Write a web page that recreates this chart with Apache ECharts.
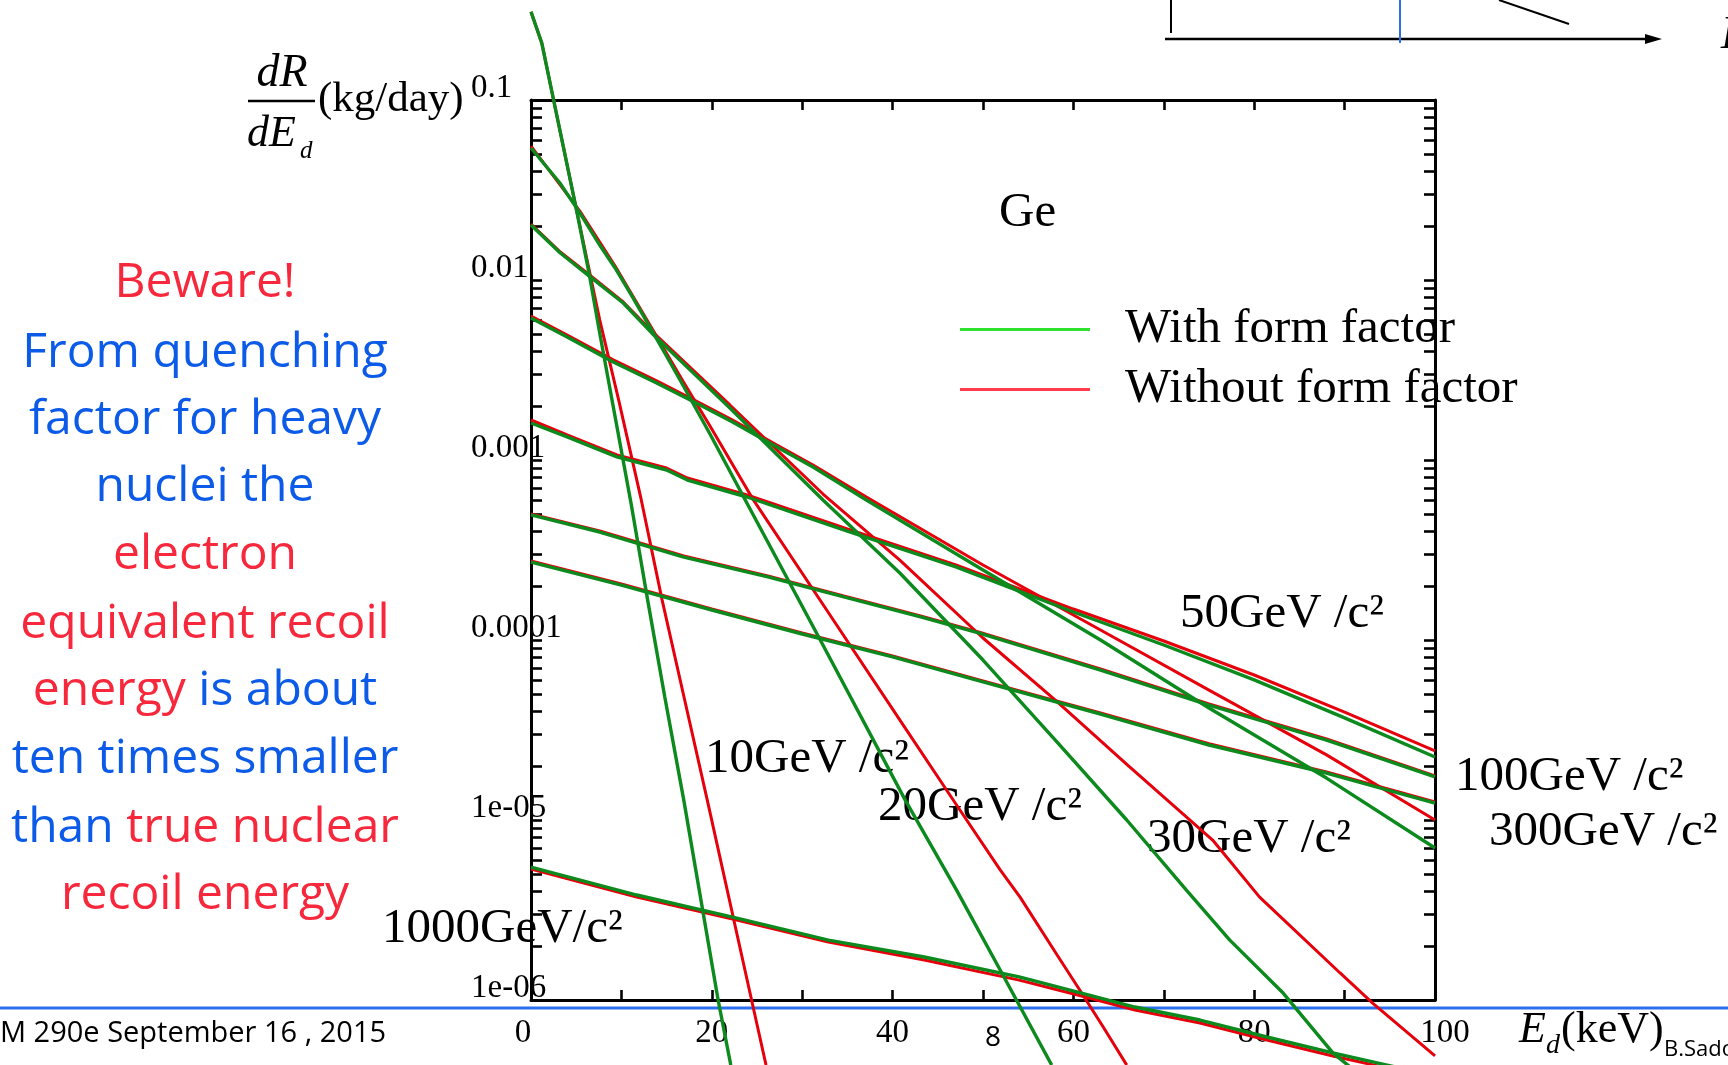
<!DOCTYPE html>
<html><head><meta charset="utf-8">
<script src="https://cdn.jsdelivr.net/npm/echarts@6/dist/echarts.min.js"></script>
<style>html,body{margin:0;padding:0;background:#fff;overflow:hidden}#c{width:1728px;height:1065px}</style>
</head><body><div id="c"></div>
<script>
// ---- data: [recoil energy keV, dR/dE (kg/day)] ----
// curves A..H : WIMP masses (GeV/c2)
const masses = ['10', '20', '30', '50', '100', '200', '300', '1000'];
const ffA = [[0,0.309],[1.2,0.2065],[2.5,0.1],[5.1,0.0236],[6.5,0.0104],[7.6,0.00508],[11.1,5.62e-4],[12.9,1.67e-4],[14.8,4.82e-5],[16.9,1.29e-5],[20.7,1.0e-6],[22.1,4.35e-7]];
const nffA = [[0,0.309],[1.2,0.2065],[2.5,0.1],[5.1,0.0236],[7.6,0.0060],[9.7,0.00215],[12.2,6.0e-4],[14.5,1.67e-4],[17.0,4.64e-5],[19.5,1.29e-5],[24.4,1.0e-6],[26.0,4.35e-7]];
const ffB = [[0,0.0541],[3.2,0.0346],[5.4,0.0236],[7.6,0.01564],[9.3,0.01166],[11.3,0.00794],[13.35,0.00527],[15.0,0.00378],[16.8,0.00261],[19.8,0.001394],[23.7,6.0e-4],[32,1.0e-4],[41.4,1.29e-5],[47,4.14e-6],[51.9,1.468e-6],[57.6,4.35e-7]];
const nffB = [[0,0.0555],[5.4,0.02415],[9.3,0.01197],[13.35,0.00541],[16.8,0.00275],[19.8,0.001545],[24.6,6.0e-4],[33,1.394e-4],[41.4,3.24e-5],[47,1.227e-5],[51.9,5.28e-6],[54.1,3.73e-6],[58.2,1.778e-6],[60.7,1.136e-6],[63.3,7.08e-7],[65.9,4.35e-7]];
const ffC = [[0,0.0202],[3.24,0.01413],[6.55,0.0104],[10.2,0.00745],[13.35,0.00508],[22,0.001945],[32.3,6.0e-4],[40.8,2.355e-4],[50,7.74e-5],[58,2.78e-5],[65.9,1.0e-5],[72.5,4.08e-6],[77.3,2.15e-6],[83.2,1.093e-6],[88.7,5.08e-7],[90.6,4.25e-7]];
const nffC = [[0,0.02048],[3.24,0.0143],[6.55,0.0106],[10.2,0.00755],[13.35,0.00521],[22,0.002022],[32.3,6.47e-4],[40.8,2.78e-4],[50,1.026e-4],[58,4.64e-5],[66,2.02e-5],[75.4,7.74e-6],[80.6,3.73e-6],[89.5,1.413e-6],[93.1,9.62e-7],[100,4.89e-7]];
const ffD = [[0,0.00615],[4,0.00482],[9.1,0.0035],[13.9,0.00268],[18.7,0.002022],[22.3,0.001626],[27.2,0.00118],[31.2,9.14e-4],[37.1,6.0e-4],[50,2.45e-4],[63,1.0e-4],[75,4.19e-5],[88,1.71e-5],[100,6.99e-6]];
const nffD = [[0,0.00631],[4,0.00494],[9.1,0.0036],[13.9,0.00275],[18.7,0.002074],[22.3,0.001668],[27.2,0.00121],[31.2,9.38e-4],[37.1,6.23e-4],[50,2.61e-4],[63,1.136e-4],[75,5.27e-5],[88,2.30e-5],[100,1.0e-5]];
const ffE = [[0,0.001606],[4,0.001343],[9.5,0.00104],[15,8.8e-4],[17.3,7.74e-4],[23.9,6.23e-4],[35,4.03e-4],[47,2.55e-4],[60,1.431e-4],[70,9.38e-5],[80,6.0e-5],[90,3.69e-5],[100,2.24e-5]];
const nffE = [[0,0.001668],[4,0.001377],[9.5,0.001067],[15,9.03e-4],[17.3,7.94e-4],[23.9,6.39e-4],[35,4.14e-4],[47,2.61e-4],[60,1.486e-4],[70,9.87e-5],[80,6.39e-5],[90,3.98e-5],[100,2.42e-5]];
const ffF = [[0,4.95e-4],[7.6,3.98e-4],[16.9,2.89e-4],[26.2,2.24e-4],[34.6,1.734e-4],[43.1,1.343e-4],[49.5,1.094e-4],[63,6.81e-5],[75,4.35e-5],[88,2.78e-5],[100,1.734e-5]];
const nffF = [[0,5.02e-4],[7.6,4.03e-4],[16.9,2.93e-4],[26.2,2.27e-4],[34.6,1.756e-4],[43.1,1.36e-4],[49.5,1.108e-4],[63,6.9e-5],[75,4.41e-5],[88,2.82e-5],[100,1.757e-5]];
const ffG = [[0,2.71e-4],[10,2.02e-4],[20,1.468e-4],[30,1.08e-4],[40,8.05e-5],[50,5.85e-5],[63,3.88e-5],[75,2.61e-5],[88,1.824e-5],[100,1.242e-5]];
const nffG = [[0,2.75e-4],[10,2.05e-4],[20,1.487e-4],[30,1.094e-4],[40,8.15e-5],[50,5.93e-5],[63,3.93e-5],[75,2.65e-5],[88,1.85e-5],[100,1.258e-5]];
const ffH = [[0,5.48e-6],[11.7,3.83e-6],[22.3,2.89e-6],[32.9,2.15e-6],[43.5,1.734e-6],[54,1.343e-6],[60.9,1.093e-6],[66.8,9.14e-7],[74,7.74e-7],[81.4,6.23e-7],[88.7,5.08e-7],[94.7,4.35e-7],[100,3.78e-7]];
const nffH = [[0,5.34e-6],[11.7,3.73e-6],[22.3,2.82e-6],[32.9,2.10e-6],[43.5,1.668e-6],[54,1.29e-6],[60.9,1.052e-6],[66.8,8.8e-7],[74,7.45e-7],[81.4,6.0e-7],[88.7,4.89e-7],[94.7,4.19e-7],[100,3.64e-7]];

const xTickLabels = [0, 20, 40, 60, 80, 100];
const yDecades = [-6, -5, -4, -3, -2, -1];
const yTickLabels = ['1e-06', '1e-05', '0.0001', '0.001', '0.01', '0.1'];
const legendNames = ['With form factor', 'Without form factor'];
const curveLabels = ['10GeV /c²', '20GeV /c²', '30GeV /c²', '50GeV /c²', '100GeV /c²', '300GeV /c²', '1000GeV/c²'];
const noteLines = [
  [['Beware!', 'r']],
  [['From quenching', 'b']],
  [['factor for heavy', 'b']],
  [['nuclei the', 'b']],
  [['electron', 'r']],
  [['equivalent recoil', 'r']],
  [['energy', 'r'], [' is about', 'b']],
  [['ten times smaller', 'b']],
  [['than', 'b'], [' true nuclear', 'r']],
  [['recoil energy', 'r']]
];

// ---- styling ----
const GREEN = '#0c8a1d', RED = '#e5000c';
const LEG_GREEN = '#2fe22f', LEG_RED = '#ff3c4c';
const TXT_RED = '#f7283c', TXT_BLUE = '#0b5be8';
const SERIF = '"Liberation Serif", "Times New Roman", serif';
const HAND = '"Comic Sans MS", "Open Sans", sans-serif';

const withFF = [ffA, ffB, ffC, ffD, ffE, ffF, ffG, ffH];
const withoutFF = [nffA, nffB, nffC, nffD, nffE, nffF, nffG, nffH];

const minorTicks = [];
for (let n = -6; n <= -2; n++) for (let k = 1; k <= 9; k++) minorTicks.push(Math.log10(k) + n);
minorTicks.push(-1);

const mkSeries = (d, name, color, w, z) => ({
  type: 'line', name, data: d, xAxisIndex: 0, yAxisIndex: 0, symbol: 'none', showSymbol: false, clip: false,
  smooth: false, lineStyle: { color, width: w }, itemStyle: { color }, z,
  emphasis: { disabled: true }, silent: true
});
const series = [
  ...withoutFF.map(d => mkSeries(d, legendNames[1], RED, 3, 3)),
  ...withFF.map(d => mkSeries(d, legendNames[0], GREEN, 3.4, 4))
];

const blackLine = { lineStyle: { color: '#000', width: 3 } };
const tickStyle = { color: '#000', width: 2.6 };

const xAxisBase = {
  type: 'value', min: 0, max: 100, interval: 10,
  axisLine: { show: true, onZero: false, ...blackLine },
  axisTick: { inside: true, length: 10, lineStyle: tickStyle },
  splitLine: { show: false }
};

const graphics = [];
// top-right diagram fragment
graphics.push({ type: 'line', shape: { x1: 1171, y1: 0, x2: 1171, y2: 33 }, style: { stroke: '#000', lineWidth: 2 } });
graphics.push({ type: 'line', shape: { x1: 1165, y1: 39, x2: 1650, y2: 39 }, style: { stroke: '#000', lineWidth: 2.5 } });
graphics.push({ type: 'polygon', shape: { points: [[1645, 34], [1662, 39], [1645, 44]] }, style: { fill: '#000' } });
graphics.push({ type: 'line', shape: { x1: 1400, y1: 0, x2: 1400, y2: 43 }, style: { stroke: '#2a6ff0', lineWidth: 2 } });
graphics.push({ type: 'line', shape: { x1: 1499, y1: 0, x2: 1569, y2: 24 }, style: { stroke: '#000', lineWidth: 2 } });
graphics.push({ type: 'text', x: 1721, y: 36, style: { text: 'E', font: 'italic 46px ' + SERIF, fill: '#000', textVerticalAlign: 'middle' } });

// left note
const noteY = [283, 353, 420, 487, 555, 624, 691, 759, 828, 895];
noteLines.forEach((parts, i) => {
  graphics.push({
    type: 'text', x: 205, y: noteY[i],
    style: {
      text: parts.map(p => '{' + p[1] + '|' + p[0] + '}').join(''),
      textAlign: 'center', textVerticalAlign: 'middle',
      font: '48px ' + HAND,
      rich: { r: { fill: TXT_RED, font: '48px ' + HAND }, b: { fill: TXT_BLUE, font: '48px ' + HAND } }
    }
  });
});

// y-axis title dR/dEd (kg/day)
graphics.push({ type: 'text', x: 282, y: 74, style: { text: 'dR', font: 'italic 46px ' + SERIF, fill: '#000', textAlign: 'center', textVerticalAlign: 'middle' } });
graphics.push({ type: 'line', shape: { x1: 248, y1: 101, x2: 315, y2: 101 }, style: { stroke: '#000', lineWidth: 2.5 } });
graphics.push({ type: 'text', x: 247, y: 134, style: { text: 'dE', font: 'italic 44px ' + SERIF, fill: '#000', textVerticalAlign: 'middle' } });
graphics.push({ type: 'text', x: 300, y: 151, style: { text: 'd', font: 'italic 25px ' + SERIF, fill: '#000', textVerticalAlign: 'middle' } });
graphics.push({ type: 'text', x: 318, y: 100, style: { text: '(kg/day)', font: '43px ' + SERIF, fill: '#000', textVerticalAlign: 'middle' } });

// curve labels
const labelPos = [[705, 759], [878, 807], [1147, 839], [1180, 614], [1455, 777], [1489, 832], [382, 929]];
curveLabels.forEach((t, i) => {
  graphics.push({ type: 'text', x: labelPos[i][0], y: labelPos[i][1], style: { text: t, font: '49px ' + SERIF, fill: '#000', textVerticalAlign: 'middle' } });
});
graphics.push({ type: 'text', x: 999, y: 213, style: { text: 'Ge', font: '49px ' + SERIF, fill: '#000', textVerticalAlign: 'middle' } });

// x-axis title and footer
graphics.push({ type: 'line', shape: { x1: 0, y1: 1008, x2: 1728, y2: 1008 }, style: { stroke: '#2a6ff0', lineWidth: 3 } });
graphics.push({ type: 'text', x: 1519, y: 1030, style: { text: 'E', font: 'italic 44px ' + SERIF, fill: '#000', textVerticalAlign: 'middle' } });
graphics.push({ type: 'text', x: 1546, y: 1046, style: { text: 'd', font: 'italic 28px ' + SERIF, fill: '#000', textVerticalAlign: 'middle' } });
graphics.push({ type: 'text', x: 1561, y: 1030, style: { text: '(keV)', font: '44px ' + SERIF, fill: '#000', textVerticalAlign: 'middle' } });
graphics.push({ type: 'text', x: 0, y: 1034, style: { text: 'M 290e September 16 , 2015', font: '29px ' + HAND, fill: '#000', textVerticalAlign: 'middle' } });
graphics.push({ type: 'text', x: 993, y: 1038, style: { text: '8', font: '28px ' + HAND, fill: '#000', textAlign: 'center', textVerticalAlign: 'middle' } });
graphics.push({ type: 'text', x: 1664, y: 1050, style: { text: 'B.Sadoulet', font: '22px ' + HAND, fill: '#000', textVerticalAlign: 'middle' } });

const xLabelRich = {
  a: { fontFamily: SERIF, fontSize: 33, color: '#000', padding: [0, 16, 0, 0] },
  c: { fontFamily: SERIF, fontSize: 33, color: '#000', padding: [0, 0, 0, 20] }
};

const option = {
  animation: false,
  backgroundColor: '#fff',
  grid: { left: 531, right: 293, top: 100, bottom: 65, containLabel: false },
  legend: {
    orient: 'vertical', left: 955, top: 300, itemWidth: 130, itemHeight: 3, itemGap: 11,
    icon: 'rect', selectedMode: false,
    data: [
      { name: legendNames[0], itemStyle: { color: LEG_GREEN } },
      { name: legendNames[1], itemStyle: { color: LEG_RED } }
    ],
    textStyle: { fontFamily: SERIF, fontSize: 49, color: '#000', padding: [0, 0, 0, 30] }
  },
  xAxis: [
    { ...xAxisBase, position: 'bottom',
      axisLabel: { customValues: xTickLabels, fontFamily: SERIF, fontSize: 33, color: '#000', margin: 17,
        formatter: v => v === 0 ? '{a|0}' : v === 100 ? '{c|100}' : String(v), rich: xLabelRich } },
    { ...xAxisBase, position: 'top', axisLabel: { show: false } }
  ],
  yAxis: [
    { type: 'log', logBase: 10, min: 1e-6, max: 0.1, position: 'left',
      axisLine: { show: true, onZero: false, ...blackLine }, axisTick: { show: false },
      axisLabel: { show: false }, splitLine: { show: false } },
    { type: 'value', min: -6, max: -1, position: 'left',
      axisLine: { show: false, onZero: false }, splitLine: { show: false },
      axisTick: { show: true, inside: true, length: 11, customValues: minorTicks, lineStyle: tickStyle },
      axisLabel: { customValues: yDecades, formatter: v => yTickLabels[Math.round(v) + 6],
        align: 'left', margin: 60, verticalAlign: 'bottom', lineHeight: 24,
        fontFamily: SERIF, fontSize: 33, color: '#000' } },
    { type: 'value', min: -6, max: -1, position: 'right',
      axisLine: { show: true, onZero: false, ...blackLine }, splitLine: { show: false },
      axisTick: { show: true, inside: true, length: 11, customValues: minorTicks, lineStyle: tickStyle },
      axisLabel: { show: false } }
  ],
  series,
  graphic: { elements: graphics }
};

const chart = echarts.init(document.getElementById('c'), null, { renderer: 'canvas', width: 1728, height: 1065 });
chart.setOption(option);
</script>
</body></html>
